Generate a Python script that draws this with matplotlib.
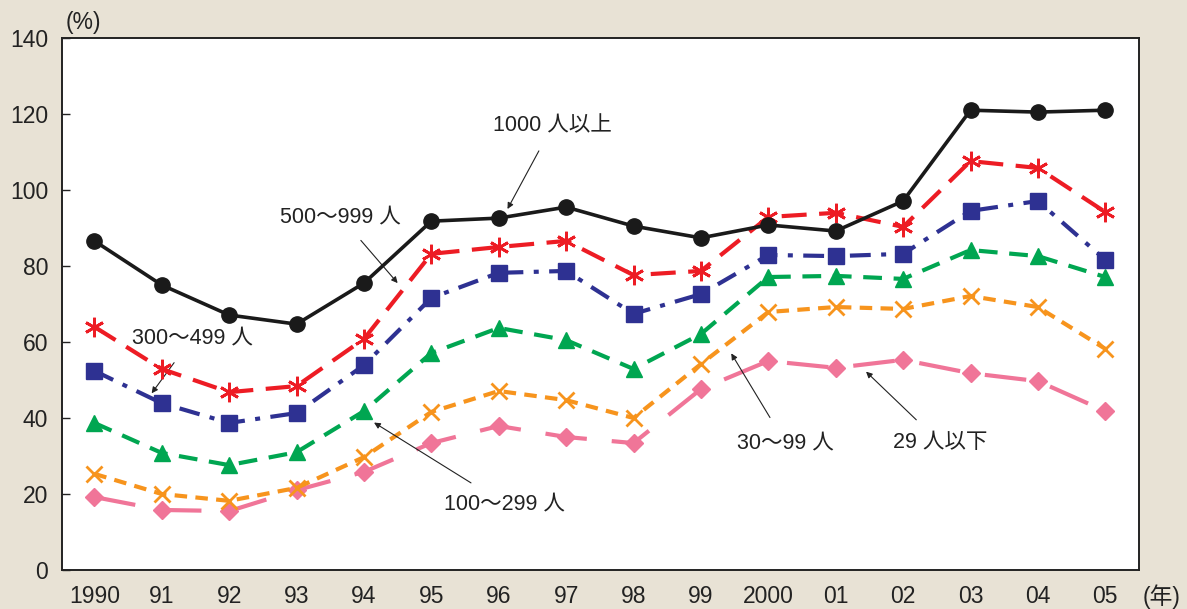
import matplotlib
matplotlib.use("Agg")
import matplotlib.pyplot as plt

plt.rcParams['font.family'] = ['Liberation Sans', 'Noto Sans CJK JP', 'DejaVu Sans']

years = ["1990", "91", "92", "93", "94", "95", "96", "97", "98", "99",
         "2000", "01", "02", "03", "04", "05"]

size_1000 = [86.6, 75.0, 67.1, 64.7, 75.5, 91.8, 92.6, 95.5, 90.5, 87.4,
             90.8, 89.2, 97.1, 121.0, 120.5, 121.0]
size_500 = [64.0, 52.9, 46.8, 48.4, 60.8, 83.2, 85.0, 86.6, 77.6, 78.7,
            92.9, 94.0, 90.3, 107.6, 105.8, 94.2]
size_300 = [52.4, 43.9, 38.7, 41.3, 53.9, 71.6, 78.2, 78.7, 67.4, 72.6,
            82.9, 82.6, 83.2, 94.5, 97.1, 81.6]
size_100 = [38.7, 30.8, 27.6, 31.0, 41.8, 57.1, 63.7, 60.5, 52.9, 62.1,
            77.1, 77.4, 76.6, 84.2, 82.6, 77.1]
size_30 = [25.3, 20.0, 18.2, 21.6, 29.7, 41.6, 47.1, 44.7, 40.0, 54.2,
           67.9, 69.2, 68.7, 72.1, 69.2, 58.2]
size_29 = [19.2, 15.8, 15.5, 21.0, 25.8, 33.4, 37.9, 35.0, 33.4, 47.6,
           55.0, 53.2, 55.3, 51.8, 49.7, 41.8]

bg = "#e8e2d5"
fig = plt.figure(figsize=(11.87, 6.09), dpi=100, facecolor=bg)
ax = fig.add_axes([62 / 1187, 1 - 570 / 609, (1139 - 62) / 1187, (570 - 38) / 609])
ax.set_facecolor("white")

x = list(range(len(years)))
lw = 3.0

ax.plot(x, size_29, color="#f07598", lw=lw, marker="D", ms=9,
        dashes=(10, 6), zorder=2)
ax.plot(x, size_30, color="#f7941d", lw=lw, marker="x", ms=12, mew=2,
        dashes=(3, 2), zorder=3)
ax.plot(x, size_100, color="#00a651", lw=lw, marker="^", ms=11,
        dashes=(4.5, 2.8), zorder=4)
ax.plot(x, size_300, color="#2e3192", lw=lw, marker="s", ms=11,
        dashes=(5, 2.5, 1.2, 2.5), zorder=5)
ax.plot(x, size_500, color="#ed1c24", lw=lw, marker=(6, 2, 0), ms=14, mew=2,
        dashes=(6, 3), zorder=6)
ax.plot(x, size_1000, color="#1a1a1a", lw=2.6, marker="o", ms=11,
        zorder=7)

ax.set_xlim(-0.48, 15.5)
ax.set_ylim(0, 140)
ax.set_yticks(range(0, 141, 20))
ax.set_xticks(x)
ax.set_xticklabels(years)
ax.tick_params(axis="y", direction="in", length=6, width=1, labelsize=16.5,
               colors="#222222", pad=10)
ax.tick_params(axis="x", length=0, labelsize=16.5, colors="#222222", pad=11)
for s in ax.spines.values():
    s.set_linewidth(1.4)
    s.set_color("#222222")

fig.text(66 / 1187, 1 - 22 / 609, "(%)", fontsize=16.5, color="#222222",
         ha="left", va="center")
fig.text(1143 / 1187, 1 - 597 / 609, "(年)", fontsize=16.5, color="#222222",
         ha="left", va="center")

def label(text, xy, xytext, ha="center"):
    ax.annotate(text, xy=xy, xytext=xytext, fontsize=15.5, color="#222222",
                ha=ha, va="center",
                arrowprops=dict(arrowstyle="-|>", color="#222222", lw=0.8,
                                mutation_scale=9, shrinkA=10, shrinkB=0))

label("1000 人以上", (6.13, 95.0), (6.8, 117.0))
label("500～999 人", (4.5, 75.5), (3.65, 93.0))
label("300～499 人", (0.85, 46.5), (1.45, 61.0))
label("100～299 人", (4.15, 38.8), (6.08, 17.5))
label("30～99 人", (9.45, 57.0), (10.25, 33.5))
label("29 人以下", (11.45, 52.2), (12.55, 33.5))

fig.savefig("out.png", dpi=100, facecolor=bg)
